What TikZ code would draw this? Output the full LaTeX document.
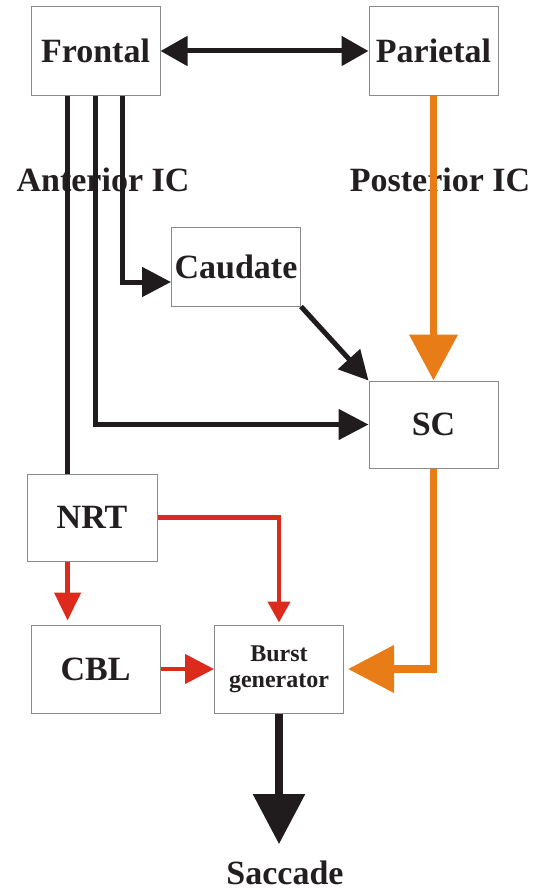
\documentclass[tikz,border=0pt]{standalone}
\usepackage{fontspec}
\setmainfont{Liberation Serif}
\usetikzlibrary{arrows.meta}
\definecolor{ink}{HTML}{231F20}
\definecolor{sacorange}{HTML}{E87D17}
\definecolor{sacred}{HTML}{DC2A1C}
\definecolor{boxgray}{HTML}{8A8A8A}
\begin{document}
\begin{tikzpicture}[x=1pt, y=-1pt,
    every node/.style={font=\fontsize{34}{36}\selectfont\bfseries, text=ink},
    area/.style={draw=boxgray, line width=1pt, fill=white, inner sep=0pt,
        minimum width=129pt, minimum height=88pt},
    blackpath/.style={draw=ink!90!black, line width=5pt},
    redpath/.style={draw=sacred, line width=4.5pt},
    orangepath/.style={draw=sacorange, line width=7.5pt}]
    \useasboundingbox (0,0) rectangle (533,891);
    \node[area] (frontal) at (95.5,51) {Frontal};
    \node[area] (parietal) at (433.5,51) {Parietal};
    \node[area, minimum height=79pt] (caudate) at (236,266.5) {Caudate};
    \node[area, minimum height=87pt] (sc) at (433.5,424.5) {SC};
    \node[area, minimum width=130pt, minimum height=87pt] (nrt) at (92,517.5) {NRT};
    \node[area] (cbl) at (95.5,669) {CBL};
    \node[area, align=center, font=\fontsize{24}{26}\selectfont\bfseries] (burst) at (279,669)
        {Burst\\generator};
    \node[anchor=base, inner sep=0pt] (saccade) at (285,884) {Saccade};
    \node[anchor=base] (antic) at (103,191) {Anterior IC};
    \node[anchor=base] (postic) at (440,191) {Posterior IC};
    % black pathways from frontal
    \draw[blackpath, {Triangle[length=27pt,width=29pt]}-{Triangle[length=27pt,width=29pt]}]
        (frontal.east) -- (parietal.west);
    \draw[blackpath] ([xshift=-28pt]frontal.south) -- ([xshift=-28pt]frontal.south |- nrt.north);
    \draw[blackpath, -{Triangle[length=30pt,width=30pt]}] (frontal.south) |- (sc.west);
    \draw[blackpath, -{Triangle[length=29pt,width=29pt]}]
        ([xshift=26.5pt]frontal.south) |- ([yshift=-15.5pt]caudate.west);
    \draw[blackpath, -{Triangle[length=29pt,width=29pt]}] (caudate.south east) -- (sc.north west);
    % orange pathway from parietal
    \draw[orangepath, -{Triangle[length=46pt,width=47pt]}] (parietal.south) -- (sc.north);
    \draw[orangepath, -{Triangle[length=46pt,width=46pt]}, shorten >=4pt] (sc.south) |- (burst.east);
    % red pathways
    \draw[redpath, -{Triangle[length=28pt,width=26pt]}, shorten >=4pt]
        ([xshift=-24.4pt]nrt.south) -- ([xshift=-24.4pt]nrt.south |- cbl.north);
    \draw[redpath, -{Triangle[length=21pt,width=22pt]}, shorten >=2pt] (nrt.east) -| (burst.north);
    \draw[redpath, -{Triangle[length=29pt,width=29pt]}] (cbl.east) -- (burst.west);
    % output
    \draw[draw=ink!90!black, line width=8.5pt, -{Triangle[length=50pt,width=50pt]}, shorten >=16pt]
        (burst.south) -- (burst.south |- saccade.north);
\end{tikzpicture}
\end{document}
